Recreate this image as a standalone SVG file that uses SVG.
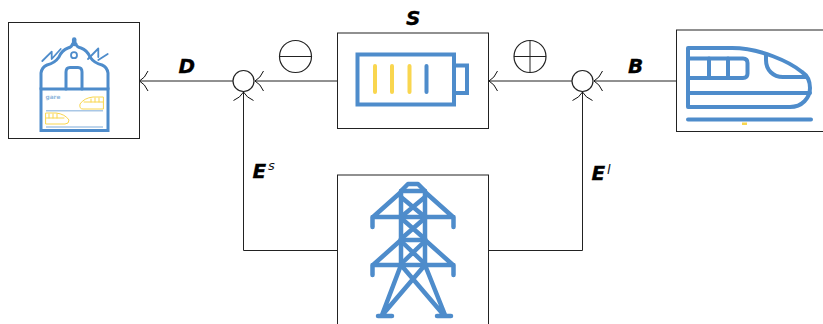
<svg xmlns="http://www.w3.org/2000/svg" width="823" height="324" viewBox="0 0 823 324">
<defs>
<marker id="head" markerUnits="userSpaceOnUse" markerWidth="12" markerHeight="24" refX="10" refY="11" orient="auto" overflow="visible">
<path d="M1.500 1Q4.500 8 10 11Q4.500 14 1.500 21" fill="none" stroke="#111" stroke-width="1"/>
</marker>
</defs>
<style>
.box{fill:#fff;stroke:#222;stroke-width:1}
.line{fill:none;stroke:#222;stroke-width:1}
.sym{fill:#fff;stroke:#222;stroke-width:1.200}
.b{fill:none;stroke:#4e8ccb;stroke-linecap:round;stroke-linejoin:round}
.y{fill:none;stroke:#f9d64f;stroke-linecap:round;stroke-linejoin:round}
.lab{font-family:"DejaVu Sans",sans-serif;font-weight:bold;font-style:italic;font-size:20px;fill:#000;stroke:#000;stroke-width:.3}
.sup{font-family:"DejaVu Sans",sans-serif;font-style:italic;font-size:13px;fill:#111}
</style>
<rect width="823" height="324" fill="#fff"/>
<g id="connectors">
<path class="line" d="M233 81H139.500" marker-end="url(#head)"/>
<path class="line" d="M337.500 81H255" marker-end="url(#head)"/>
<path class="line" d="M337.500 250.500H243.500V92" marker-end="url(#head)"/>
<path class="line" d="M488.500 250.500H582.500V92" marker-end="url(#head)"/>
<path class="line" d="M676.500 81H594" marker-end="url(#head)"/>
<path class="line" d="M572 81H489" marker-end="url(#head)"/>
</g>
<g id="station">
<rect class="box" x="8.500" y="22.500" width="131" height="116"/>
<g class="b" stroke-width="3">
<path stroke-linejoin="miter" d="M41 89H108V130.500H41Z"/>
<path d="M41 89V73Q42 67 47 65Q55 63 59 57Q62 50 68 48Q72 47 72.500 44M76 44Q76.500 47 81 48Q87 50 90 57Q94 63 102 65Q107 67 108 73V89"/>
<path d="M74.200 39.500V44" stroke-width="4.500"/>
<path d="M66 89V72Q66 67.500 70 67.500H78Q82 67.500 82 72V89"/>
<circle cx="74" cy="55.200" r="3" stroke-width="1.800"/>
<path stroke-width="1.800" d="M42.300 61L51.700 51.700V59L60.700 49M88 59L98.300 48.500V57M98.300 60L107.700 54"/>
</g>
<text x="45.500" y="98.500" font-family="DejaVu Sans,sans-serif" font-size="5.800" font-weight="bold" fill="#8fb6dd">gare</text>
<g class="y" stroke-width="1">
<path d="M103 97H93Q84 98 80 104Q79 109 83 109H103ZM103 102H84M91 99V102M95 98V102M99 98V102"/>
<path d="M46 113H56Q65 114 69 120Q69 124 65 124H46ZM46 118H64M49 114V118M53 114V118M57 114V118"/>
</g>
<path d="M46 110.800H103M46 127H103" stroke="#a9c7e6" stroke-width="1.500" fill="none"/>
</g>
<g id="battery">
<rect class="box" x="337.500" y="33" width="151" height="95.500"/>
<g class="b" stroke-width="4">
<path stroke-linejoin="miter" d="M357.500 54.500H454V104.500H357.500Z"/>
<path stroke-linejoin="miter" d="M454 65.500H467V93H454"/>
<path d="M426.500 66V92"/>
</g>
<path class="y" stroke-width="4" d="M375 66V92M392 66V92M409.500 66V92"/>
</g>
<g id="train">
<rect class="box" x="676.500" y="30" width="160" height="101.500"/>
<g class="b" stroke-width="4">
<path d="M688 48H732C760 48 790 62 802 72C808 76 810 82 810 88C810 98 802 107 790 107H688Z"/>
<path d="M688 58.500H743Q747.500 58.500 747.500 63V73.500Q747.500 78 743 78H688"/>
<path d="M709 58.500V78M728 58.500V78M688 93H810M766 55V60C766 70 773 77 783 77H806M688 119.500H811"/>
</g>
<rect x="742" y="122.500" width="5" height="2.500" fill="#f9d64f"/>
</g>
<g id="tower">
<rect class="box" x="337.500" y="175" width="151" height="160"/>
<g class="b" stroke-width="4.500">
<path d="M401 265V191L408 184H418L425 191V265"/>
<path d="M401 191H425M401 192L373 217H453L425 192M372.500 217V227M453.500 217V227"/>
<path d="M401 240L373 265H453L425 240M372.500 265V275M453.500 265V275M401 240H425"/>
<path d="M401 197L425 217M425 197L401 217M401 218L425 239M425 218L401 239M401 241L425 264M425 241L401 264"/>
<path d="M401 265L382 315M425 265L445 315M401 265L442 313M425 265L384 313M378 316H392M437 316H451"/>
</g>
</g>
<g id="junction-left"><circle class="sym" cx="243.500" cy="81" r="10.500"/></g>
<g id="junction-right"><circle class="sym" cx="582.500" cy="81" r="10.500"/></g>
<g id="minus"><circle class="sym" cx="295.500" cy="56.500" r="16"/><path class="line" d="M279.500 56.500H311.500"/></g>
<g id="plus"><circle class="sym" cx="530" cy="56.500" r="16"/><path class="line" d="M514 56.500H546M530 40.500V72.500"/></g>
<g id="labels">
<text class="lab" x="178.500" y="73">D</text>
<text class="lab" x="406" y="25">S</text>
<text class="lab" x="628" y="73">B</text>
<text class="lab" x="252.500" y="178">E</text><text class="sup" x="268" y="170">s</text>
<text class="lab" x="591.500" y="180">E</text><text class="sup" x="607" y="174">l</text>
</g>
</svg>
